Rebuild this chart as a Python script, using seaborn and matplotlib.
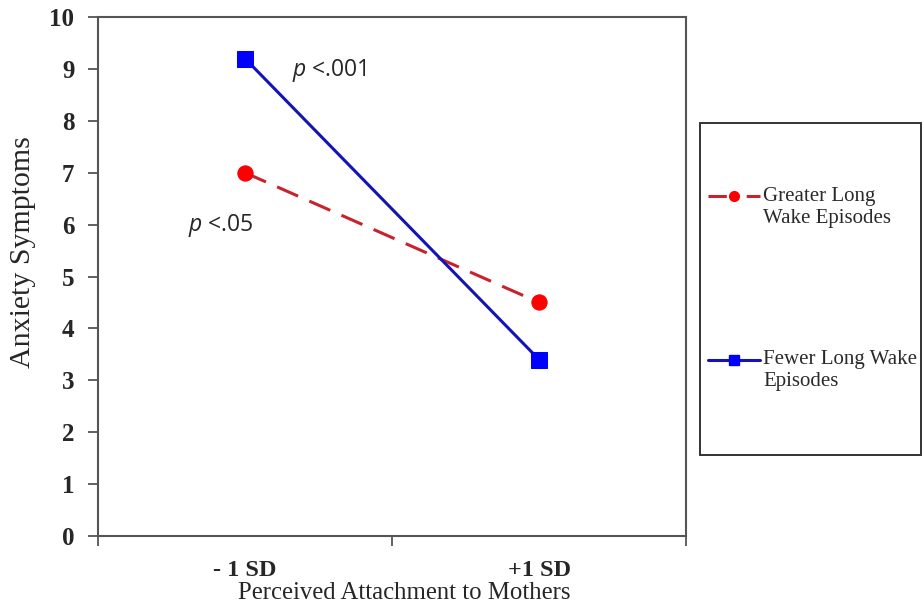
import matplotlib
matplotlib.use("Agg")
import matplotlib.pyplot as plt
import seaborn as sns
import pandas as pd
from matplotlib.lines import Line2D
from matplotlib.patches import Rectangle
from matplotlib.ticker import FixedLocator

# ---- data ----
categories = ["- 1 SD", "+1 SD"]
greater_long_wake = [7.0, 4.5]
fewer_long_wake = [9.2, 3.4]
series_labels = ["Greater Long\nWake Episodes", "Fewer Long Wake\nEpisodes"]
y_ticks = [0, 1, 2, 3, 4, 5, 6, 7, 8, 9, 10]

sns.set_style("white")
plt.rcParams["font.family"] = ["Liberation Serif", "DejaVu Serif"]
plt.rcParams["mathtext.fontset"] = "custom"
plt.rcParams["mathtext.it"] = "Open Sans:italic"
plt.rcParams["mathtext.rm"] = "Open Sans"

df_g = pd.DataFrame({"x": categories, "y": greater_long_wake})
df_f = pd.DataFrame({"x": categories, "y": fewer_long_wake})

fig = plt.figure(figsize=(9.24, 6.13), dpi=100)
ax = fig.add_axes([98/924, 77/613, 588/924, 519/613])

red_line, red_mark = "#c8232c", "#ff0000"
blue_line, blue_mark = "#1414b4", "#0000ff"

sns.lineplot(data=df_g, x="x", y="y", ax=ax, color=red_line, linewidth=2.2,
             linestyle=(0, (7.5, 4)), marker="o", markersize=11,
             markerfacecolor=red_mark, markeredgecolor=red_mark, sort=False)
sns.lineplot(data=df_f, x="x", y="y", ax=ax, color=blue_line, linewidth=2.2,
             linestyle="-", marker="s", markersize=11,
             markerfacecolor=blue_mark, markeredgecolor=blue_mark, sort=False)

ax.set_xlim(-0.5, 1.5)
ax.set_ylim(0, 10)
ax.set_yticks(y_ticks)
ax.set_yticklabels([str(t) for t in y_ticks], fontsize=18, fontweight="bold")
ax.set_xticks([0, 1])
ax.set_xticklabels(categories, fontsize=17.5, fontweight="bold")
ax.xaxis.set_minor_locator(FixedLocator([-0.5, 0.5, 1.5]))
ax.tick_params(axis="x", which="major", length=0, pad=17)
ax.tick_params(axis="x", which="minor", length=7, width=1.3, color="#555555", direction="out", bottom=True)
ax.tick_params(axis="y", which="major", length=7, width=1.3, color="#555555", direction="out", left=True, pad=10)

for s in ax.spines.values():
    s.set_visible(True)
    s.set_color("#555555")
    s.set_linewidth(1.5)

ax.set_xlabel("Perceived Attachment to Mothers", fontsize=17.8)
ax.xaxis.set_label_coords(0.52, -0.088)
ax.set_ylabel("Anxiety Symptoms", fontsize=21.5)
ax.yaxis.set_label_coords(-0.105, 0.547)

ax.text(0.16, 8.96, r"$\it{p}$ <.001", fontsize=16.5, family=["Open Sans", "DejaVu Sans"], va="center", ha="left")
ax.text(-0.194, 5.99, r"$\it{p}$ <.05", fontsize=16.5, family=["Open Sans", "DejaVu Sans"], va="center", ha="left")

# legend frame
fig.patches.append(Rectangle((700/924, 1 - 455/613), 221/924, 332/613, transform=fig.transFigure,
                             fill=False, edgecolor="#333333", linewidth=1.4))

handles = [
    Line2D([], [], color=red_line, linewidth=2.2, linestyle=(0, (6, 6.5)), marker="o",
           markersize=7, markerfacecolor=red_mark, markeredgecolor=red_mark),
    Line2D([], [], color=blue_line, linewidth=2.2, linestyle="-", marker="s",
           markersize=7, markerfacecolor=blue_mark, markeredgecolor=blue_mark),
]
leg_labels = ["\n" + s for s in series_labels]
leg = fig.legend(handles, leg_labels, loc="upper left",
                 bbox_to_anchor=(708/924, 1 - 165/613),
                 prop={"family": "Liberation Serif", "size": 15},
                 frameon=False, borderpad=0, labelspacing=4.85,
                 handlelength=2.5, handletextpad=0.15, borderaxespad=0)
for t in leg.get_texts():
    t.set_linespacing(1.2)
    t.set_color("#2a2a2a")

fig.savefig("out.png", dpi=100, facecolor="white")
